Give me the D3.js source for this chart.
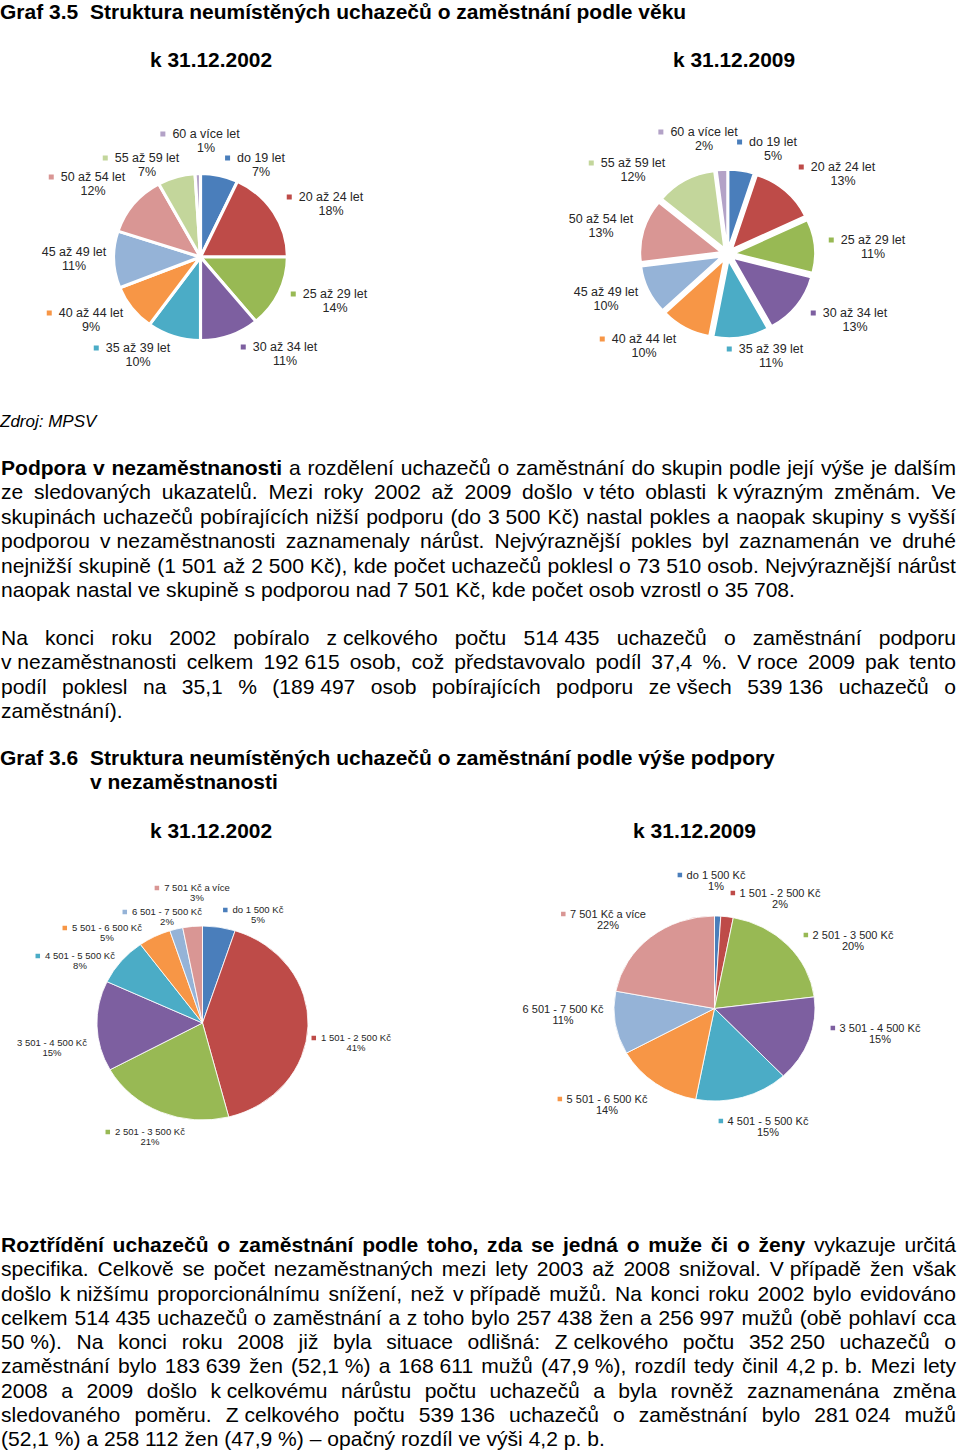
<!DOCTYPE html>
<html><head><meta charset="utf-8">
<script src="https://cdn.jsdelivr.net/npm/d3@7"></script>
<style>body{margin:0;background:#fff}svg{display:block;font-family:"Liberation Sans",Arial,sans-serif}</style>
</head><body><svg id="c" width="960" height="1450"></svg>
<script>
// ---------- data ----------
const ageCategories = ["do 19 let","20 až 24 let","25 až 29 let","30 až 34 let","35 až 39 let","40 až 44 let","45 až 49 let","50 až 54 let","55 až 59 let","60 a více let"];
const age2002 = [7,18,14,11,10,9,11,12,7,1];
const age2009 = [5,13,11,13,11,10,10,13,12,2];
const benefitCategories = ["do 1 500 Kč","1 501 - 2 500 Kč","2 501 - 3 500 Kč","3 501 - 4 500 Kč","4 501 - 5 500 Kč","5 501 - 6 500 Kč","6 501 - 7 500 Kč","7 501 Kč a více"];
const benefit2002 = [5,41,21,15,8,5,2,3];
const benefit2009 = [1,2,20,15,15,14,11,22];
const palette = ["#4a7ebb","#be4b48","#98b954","#7d5fa0","#4bacc6","#f79646","#95b3d7","#d99694","#c3d69b","#b3a2c7"];

// label layout (name centre x, name centre y, show legend key)
const ageLabels2002 = [[261,158,1],[331,197,1],[335,294,1],[285,347,1],[138,348,1],[91,313,1],[74,252,0],[93,177,1],[147,158,1],[206,134,1]];
const ageLabels2009 = [[773,142,1],[843,167,1],[873,240,1],[855,313,1],[771,349,1],[644,339,1],[606,292,0],[601,219,0],[633,163,1],[704,132,1]];
const benLabels2002 = [[258,910,1],[356,1038,1],[150,1132,1],[52,1043,0],[80,956,1],[107,928,1],[167,912,1],[197,888,1]];
const benLabels2009 = [[716,875,1],[780,893,1],[853,935,1],[880,1028,1],[768,1121,1],[607,1099,1],[563,1009,0],[608,914,1]];

const para1 = [
"**Podpora v nezaměstnanosti** a rozdělení uchazečů o zaměstnání do skupin podle její výše je dalším",
"ze sledovaných ukazatelů. Mezi roky 2002 až 2009 došlo v~této oblasti k~výrazným změnám. Ve",
"skupinách uchazečů pobírajících nižší podporu (do 3~500 Kč) nastal pokles a naopak skupiny s vyšší",
"podporou v~nezaměstnanosti zaznamenaly nárůst. Nejvýraznější pokles byl zaznamenán ve druhé",
"nejnižší skupině (1~501 až 2~500 Kč), kde počet uchazečů poklesl o 73~510 osob. Nejvýraznější nárůst",
"naopak nastal ve skupině s podporou nad 7~501 Kč, kde počet osob vzrostl o 35~708."];
const para2 = [
"Na konci roku 2002 pobíralo z~celkového počtu 514~435 uchazečů o zaměstnání podporu",
"v~nezaměstnanosti celkem 192~615 osob, což představovalo podíl 37,4 %. V~roce 2009 pak tento",
"podíl poklesl na 35,1 % (189~497 osob pobírajících podporu ze~všech 539~136 uchazečů o",
"zaměstnání)."];
const para3 = [
"**Roztřídění uchazečů o zaměstnání podle toho, zda se jedná o muže či o ženy** vykazuje určitá",
"specifika. Celkově se počet nezaměstnaných mezi lety 2003 až 2008 snižoval. V~případě žen však",
"došlo k~nižšímu proporcionálnímu snížení, než v~případě mužů. Na konci roku 2002 bylo evidováno",
"celkem 514~435 uchazečů o zaměstnání a z~toho bylo 257~438 žen a 256~997 mužů (obě pohlaví cca",
"50~%). Na konci roku 2008 již byla situace odlišná: Z~celkového počtu 352~250 uchazečů o",
"zaměstnání bylo 183~639 žen (52,1~%) a 168~611 mužů (47,9~%), rozdíl tedy činil 4,2~p.~b. Mezi lety",
"2008 a 2009 došlo k~celkovému nárůstu počtu uchazečů a byla rovněž zaznamenána změna",
"sledovaného poměru. Z~celkového počtu 539~136 uchazečů o zaměstnání bylo 281~024 mužů",
"(52,1~%) a 258~112 žen (47,9~%) – opačný rozdíl ve výši 4,2 p. b."];

// ---------- drawing ----------
const svg = d3.select("#c");
const SX = 1.053, FS = 20, X0 = 1, X1 = 956;

function tokens(line){
  const out=[]; line.split("**").forEach((seg,i)=>{
    seg.split(" ").filter(s=>s.length).forEach(w=>out.push({t:w.replace(/~/g,"\u00a0"),b:i%2===1}));
  }); return out;
}
function drawPara(lines, y0, lh){
  lines.forEach((line,li)=>{
    const y = y0 + li*lh, tk = tokens(line), justify = li < lines.length-1;
    const els = tk.map(t=>svg.append("text").attr("font-size",FS).attr("font-weight",t.b?"bold":"normal").attr("fill","#000").text(t.t));
    const w = els.map(e=>e.node().getComputedTextLength()*SX);
    let gap = FS*0.278*SX;
    if (justify && tk.length>1) gap = (X1-X0-d3.sum(w))/(tk.length-1);
    let x = X0;
    els.forEach((e,i)=>{ e.attr("transform",`translate(${x},${y}) scale(${SX},1)`); x += w[i]+gap; });
  });
}
function text(x,y,s,opt={}){
  const t = svg.append("text").attr("transform",`translate(${x},${y}) scale(${opt.sx||1},1)`)
    .attr("font-size",opt.size||FS).attr("font-weight",opt.bold?"bold":"normal")
    .attr("font-style",opt.italic?"italic":"normal").attr("fill","#000").text(s);
  if (opt.len) t.attr("textLength",opt.len).attr("lengthAdjust","spacingAndGlyphs");
  return t;
}

// headings
text(0,19,"Graf 3.5",{bold:true,size:20,sx:1.05});
text(90,19,"Struktura neumístěných uchazečů o zaměstnání podle věku",{bold:true,size:20,sx:1.05});
text(150,67,"k 31.12.2002",{bold:true,size:20,len:122});
text(673,67,"k 31.12.2009",{bold:true,size:20,len:122});
text(0,427,"Zdroj: MPSV",{italic:true,size:17});
drawPara(para1,475,24.4);
drawPara(para2,645,24.35);
text(0,765,"Graf 3.6",{bold:true,size:20,sx:1.05});
text(90,765,"Struktura neumístěných uchazečů o zaměstnání podle výše podpory",{bold:true,size:20,sx:1.05});
text(90,789,"v nezaměstnanosti",{bold:true,size:20,sx:1.05});
text(150,838,"k 31.12.2002",{bold:true,size:20,len:122});
text(633,838,"k 31.12.2009",{bold:true,size:20,len:123});
drawPara(para3,1252,24.28);

// pies
function drawPie(cfg){
  const pie = d3.pie().sort(null).value(d=>d)(cfg.values);
  const arc = d3.arc().innerRadius(0).outerRadius(cfg.r);
  const g = svg.append("g").attr("transform",`translate(${cfg.cx},${cfg.cy}) scale(${cfg.sx},1)`);
  g.selectAll("path").data(pie).join("path")
    .attr("d",arc)
    .attr("fill",(d,i)=>palette[i])
    .attr("stroke","#fff").attr("stroke-width",cfg.stroke).attr("stroke-linejoin","round")
    .attr("transform",d=>{const m=(d.startAngle+d.endAngle)/2; return `translate(${Math.sin(m)*cfg.explode},${-Math.cos(m)*cfg.explode})`;});
  cfg.labels.forEach((L,i)=>{
    const [x,y,key] = L;
    const t1 = svg.append("text").attr("x",0).attr("y",0).attr("transform",`translate(${x},${y}) scale(${cfg.lsx},1)`)
      .attr("text-anchor","middle").attr("dominant-baseline","central")
      .attr("font-size",cfg.fs).attr("fill","#262626").text(cfg.categories[i]);
    svg.append("text").attr("transform",`translate(${x},${y+cfg.lh}) scale(${cfg.lsx},1)`)
      .attr("text-anchor","middle").attr("dominant-baseline","central")
      .attr("font-size",cfg.fs).attr("fill","#262626").text(cfg.values[i]+"%");
    if (key){
      const w = t1.node().getComputedTextLength()*cfg.lsx;
      svg.append("rect").attr("x",x-w/2-cfg.gap-cfg.ks).attr("y",y-cfg.ks/2).attr("width",cfg.ks).attr("height",cfg.ks).attr("fill",palette[i]);
    }
  });
}
drawPie({values:age2002,categories:ageCategories,labels:ageLabels2002,cx:200.5,cy:257,r:83.5,sx:1.04,stroke:3,explode:0,fs:12,lsx:1.04,lh:14,gap:7,ks:5});
drawPie({values:age2009,categories:ageCategories,labels:ageLabels2009,cx:727.5,cy:254,r:77,sx:1.04,stroke:1.5,explode:7,fs:12,lsx:1.04,lh:14,gap:7,ks:5});
drawPie({values:benefit2002,categories:benefitCategories,labels:benLabels2002,cx:202.5,cy:1023,r:97,sx:1.088,stroke:0.8,explode:0,fs:9,lsx:1.06,lh:10.3,gap:5,ks:4.5});
drawPie({values:benefit2009,categories:benefitCategories,labels:benLabels2009,cx:714.5,cy:1008.5,r:92.5,sx:1.086,stroke:0.8,explode:0,fs:10.3,lsx:1.07,lh:11,gap:4.5,ks:4.5});
</script></body></html>
